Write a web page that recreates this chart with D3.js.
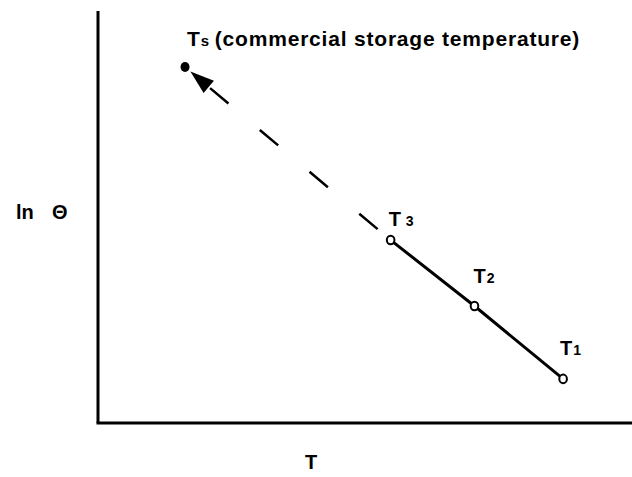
<!DOCTYPE html>
<html>
<head>
<meta charset="utf-8">
<script src="https://cdn.jsdelivr.net/npm/d3@7"></script>
<style>
  body { margin: 0; background: #fff; }
  text { font-family: "Liberation Sans", Arial, sans-serif; font-weight: bold; fill: #000; }
</style>
</head>
<body>
<div id="chart"></div>
<script>
// measured points (arbitrary units): T1, T2, T3 measured, Ts extrapolated
const labels = ["1", "2", "3"];
const xVals = [8.71, 7.05, 5.48];
const yVals = [1.07, 2.84, 4.44];
const storageX = 1.63;
const storageY = 8.64;

const width = 632, height = 477;

const svg = d3.select("#chart")
    .append("svg")
    .attr("width", width)
    .attr("height", height);

const xScale = d3.scaleLinear().domain([0, 10]).range([98, 632]);
const yScale = d3.scaleLinear().domain([0, 10]).range([423, 11]);

// axes, just two plain lines
svg.append("line")
    .attr("x1", xScale(0)).attr("y1", yScale(0))
    .attr("x2", xScale(0)).attr("y2", yScale(10))
    .attr("stroke", "#000").attr("stroke-width", 3);
svg.append("line")
    .attr("x1", xScale(0) - 1.5).attr("y1", yScale(0))
    .attr("x2", xScale(10)).attr("y2", yScale(0))
    .attr("stroke", "#000").attr("stroke-width", 3);

const pts = xVals.map((x, i) => ({ x: xScale(x), y: yScale(yVals[i]), label: labels[i] }));
const ts = { x: xScale(storageX), y: yScale(storageY) };
const t3 = pts[pts.length - 1];

// solid line through measured points
svg.append("path")
    .datum(pts)
    .attr("fill", "none")
    .attr("stroke", "#000")
    .attr("stroke-width", 3)
    .attr("d", d3.line().x(d => d.x).y(d => d.y));

// dashed extrapolation toward Ts
const dx = ts.x - t3.x, dy = ts.y - t3.y;
const len = Math.hypot(dx, dy);
const ux = dx / len, uy = dy / len;
const tip = { x: ts.x - ux * 7, y: ts.y - uy * 7 };
const headLen = 24, headW = 8;
const base = { x: tip.x - ux * headLen, y: tip.y - uy * headLen };

svg.append("line")
    .attr("x1", t3.x).attr("y1", t3.y)
    .attr("x2", base.x).attr("y2", base.y)
    .attr("stroke", "#000")
    .attr("stroke-width", 2.5)
    .attr("stroke-dasharray", "0 17 24 24");

// arrow head
svg.append("path")
    .attr("d", d3.line()([
        [tip.x, tip.y],
        [base.x - uy * headW, base.y + ux * headW],
        [base.x + uy * headW, base.y - ux * headW]
    ]) + "Z")
    .attr("fill", "#000");

// Ts dot
svg.append("ellipse")
    .attr("cx", ts.x).attr("cy", ts.y)
    .attr("rx", 4.5).attr("ry", 5)
    .attr("fill", "#000");

// measured circles
svg.selectAll("ellipse.pt")
    .data(pts)
    .join("ellipse")
    .attr("class", "pt")
    .attr("cx", d => d.x).attr("cy", d => d.y)
    .attr("rx", 3.8).attr("ry", 4.3)
    .attr("fill", "#fff")
    .attr("stroke", "#000")
    .attr("stroke-width", 2);

// point labels
const lblOff = [[-3, -24], [-1, -23], [-2, -14]];
pts.forEach((d, i) => {
    const t = svg.append("text")
        .attr("x", d.x + lblOff[i][0])
        .attr("y", d.y + lblOff[i][1])
        .attr("font-size", 20)
        .text("T");
    t.append("tspan")
        .attr("font-size", 14)
        .attr("dx", d.label === "3" ? 5 : 1)
        .text(d.label);
});

const title = svg.append("text")
    .attr("x", ts.x + 2)
    .attr("y", 46)
    .attr("font-size", 21)
    .attr("letter-spacing", 0.8)
    .text("T");
title.append("tspan").attr("font-size", 15).attr("dx", 0).text("s");
title.append("tspan").attr("dx", 5).text("(commercial storage temperature)");

// axis titles
const yl = svg.append("text")
    .attr("x", 16)
    .attr("y", 219)
    .attr("font-size", 20)
    .text("ln");
yl.append("tspan").attr("x", 52).text("Θ");

svg.append("text")
    .attr("x", 305)
    .attr("y", 469)
    .attr("font-size", 20)
    .text("T");
</script>
</body>
</html>
